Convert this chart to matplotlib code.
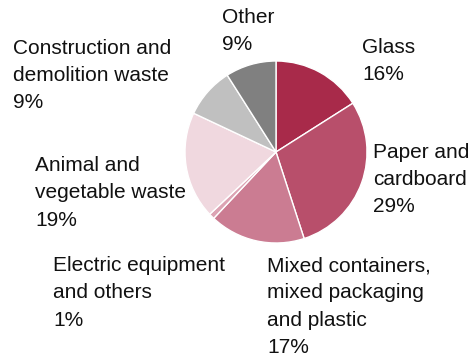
import matplotlib
import matplotlib.pyplot as plt

matplotlib.use('agg')

# waste shares (percent), clockwise from 12 o'clock
categories = ['Glass', 'Paper and\ncardboard', 'Mixed containers,\nmixed packaging\nand plastic',
              'Electric equipment\nand others', 'Animal and\nvegetable waste',
              'Construction and\ndemolition waste', 'Other']
shares = [16, 29, 17, 1, 19, 9, 9]
colors = ['#a82a4a', '#b84f6b', '#cb7c92', '#dca3b3', '#f0d8df', '#c0c0c0', '#808080']

# label anchor (left, top) in pixels
label_pos = [(362, 38), (373, 143), (267, 256), (53, 256), (35, 156), (13, 39), (222, 8)]

W, H = 475, 356
fig = plt.figure(figsize=(W / 100, H / 100), dpi=100)
cx, cy, r = 276, 152, 91
ax = fig.add_axes([(cx - r) / W, (H - cy - r) / H, 2 * r / W, 2 * r / H])
ax.pie(shares, colors=colors, startangle=90, counterclock=False, radius=1,
       wedgeprops=dict(edgecolor='white', linewidth=1))
ax.set_xlim(-1, 1)
ax.set_ylim(-1, 1)
ax.axis('off')

for name, val, (x, y) in zip(categories, shares, label_pos):
    fig.text(x / W, 1 - y / H, f'{name}\n{val}%', ha='left', va='top',
             fontsize=15, family='Liberation Sans', linespacing=1.55, color='#111111')

fig.savefig('out.png', dpi=100)
